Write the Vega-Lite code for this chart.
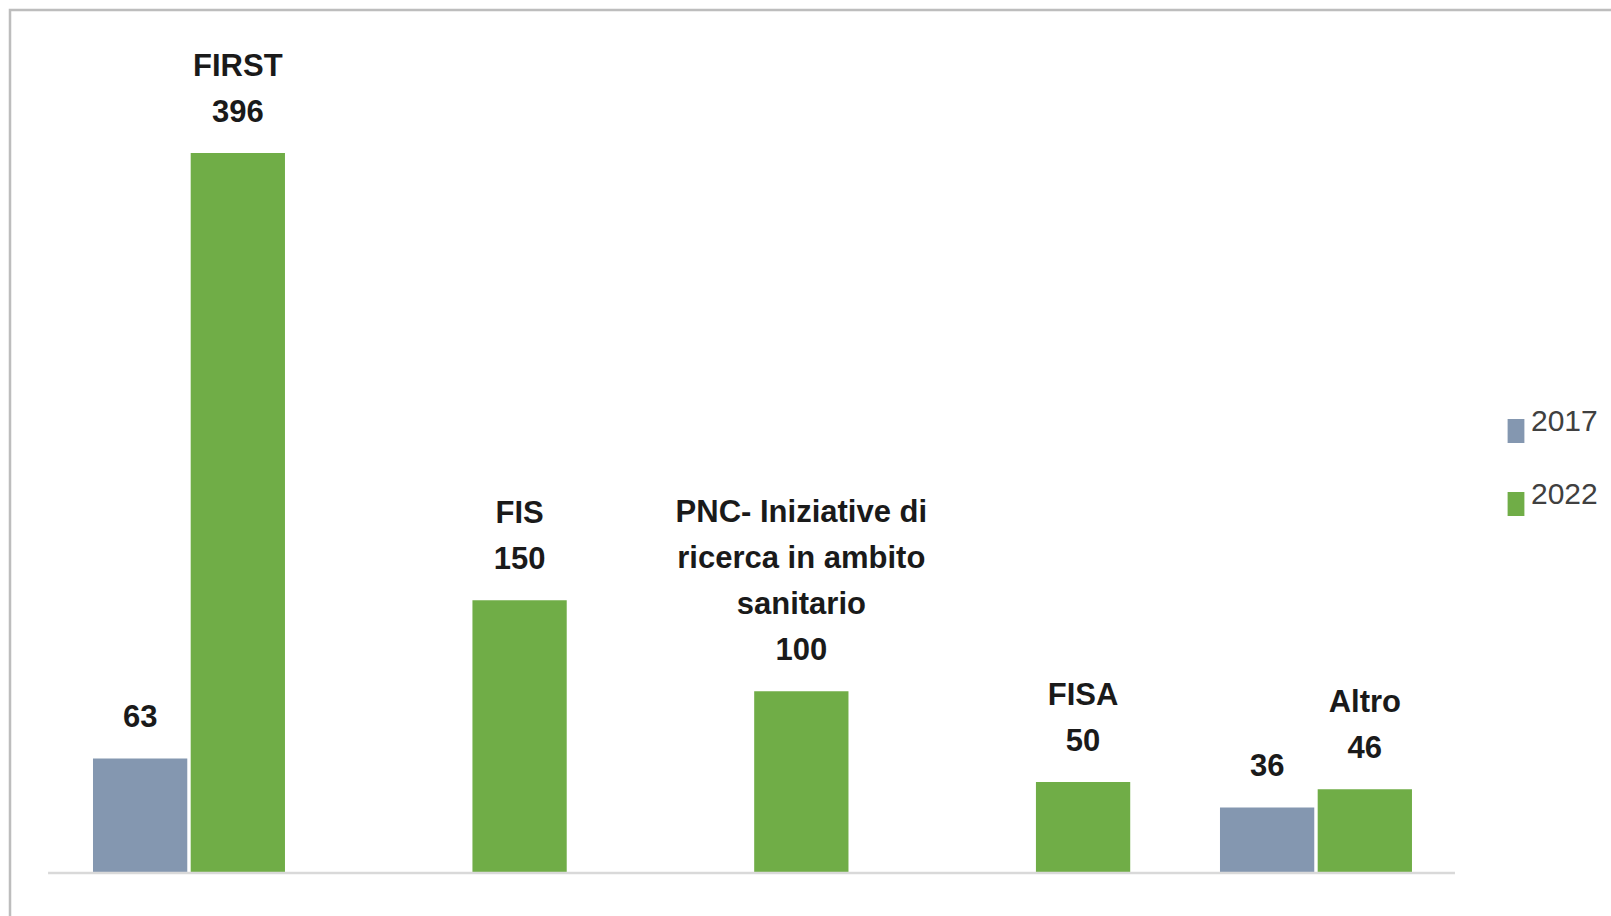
{
  "$schema": "https://vega.github.io/schema/vega-lite/v6.json",
  "width": 1620,
  "height": 930,
  "autosize": {"type": "none"},
  "padding": {"left": 10, "top": 10, "right": -19, "bottom": -24},
  "background": "#ffffff",
  "config": {
    "view": {"stroke": "#bdbdbd", "strokeWidth": 2.5},
    "font": "Liberation Sans, Arial, sans-serif",
    "text": {"fontSize": 31, "fontWeight": "bold", "align": "center", "baseline": "alphabetic", "lineHeight": 46, "lineBreak": "\n", "color": "#1a1a1a"}
  },
  "data": {
    "values": [
      {"categoria": "FIRST", "anno": "2017", "valore": 63, "nome": null},
      {"categoria": "FIRST", "anno": "2022", "valore": 396, "nome": "FIRST"},
      {"categoria": "FIS", "anno": "2022", "valore": 150, "nome": "FIS"},
      {"categoria": "PNC", "anno": "2022", "valore": 100, "nome": "PNC- Iniziative di\nricerca in ambito\nsanitario"},
      {"categoria": "FISA", "anno": "2022", "valore": 50, "nome": "FISA"},
      {"categoria": "Altro", "anno": "2017", "valore": 36, "nome": null},
      {"categoria": "Altro", "anno": "2022", "valore": 46, "nome": "Altro"}
    ]
  },
  "layer": [
    {
      "mark": {"type": "bar"},
      "encoding": {
        "x": {
          "field": "categoria",
          "type": "nominal",
          "axis": null,
          "scale": {"domain": ["FIRST", "FIS", "PNC", "FISA", "Altro"], "paddingInner": 0.3186, "paddingOuter": 0.5342, "align": 0.2757}
        },
        "xOffset": {"field": "anno", "type": "nominal", "scale": {"domain": ["2017", "2022"], "paddingInner": 0.035, "paddingOuter": 0}},
        "y": {
          "field": "valore",
          "type": "quantitative",
          "axis": null,
          "scale": {"domain": [-36.85, 474.65], "nice": false, "zero": false}
        },
        "color": {
          "field": "anno",
          "type": "nominal",
          "scale": {"domain": ["2017", "2022"], "range": ["#8497B0", "#70AD47"]},
          "legend": {
            "title": null,
            "orient": "none",
            "legendX": 1491,
            "legendY": 406,
            "padding": 0,
            "symbolType": "M-0.7,-1H0.7V1H-0.7Z",
            "symbolSize": 576,
            "symbolStrokeWidth": 0,
            "labelFontSize": 30,
            "labelColor": "#404040",
            "labelBaseline": "alphabetic",
            "labelOffset": 0,
            "rowPadding": 37
          }
        }
      }
    },
    {
      "mark": {"type": "text", "dy": -31.5},
      "encoding": {
        "x": {"field": "categoria", "type": "nominal"},
        "xOffset": {"field": "anno", "type": "nominal"},
        "y": {"field": "valore", "type": "quantitative"},
        "text": {"field": "valore", "type": "quantitative"}
      }
    },
    {
      "transform": [{"filter": "datum.nome != null && indexof(datum.nome, '\\n') < 0"}],
      "mark": {"type": "text", "dy": -77.5},
      "encoding": {
        "x": {"field": "categoria", "type": "nominal"},
        "xOffset": {"field": "anno", "type": "nominal"},
        "y": {"field": "valore", "type": "quantitative"},
        "text": {"field": "nome"}
      }
    },
    {
      "transform": [{"filter": "datum.nome != null && indexof(datum.nome, '\\n') >= 0"}],
      "mark": {"type": "text", "dy": -169.5},
      "encoding": {
        "x": {"field": "categoria", "type": "nominal"},
        "xOffset": {"field": "anno", "type": "nominal"},
        "y": {"field": "valore", "type": "quantitative"},
        "text": {"field": "nome"}
      }
    },
    {
      "data": {"values": [{"base": 0}]},
      "mark": {"type": "rule", "color": "#d9d9d9", "strokeWidth": 2.5},
      "encoding": {
        "y": {"field": "base", "type": "quantitative"},
        "x": {"datum": "FIRST", "bandPosition": -0.234},
        "x2": {"datum": "Altro", "bandPosition": 1.224}
      }
    }
  ]
}
